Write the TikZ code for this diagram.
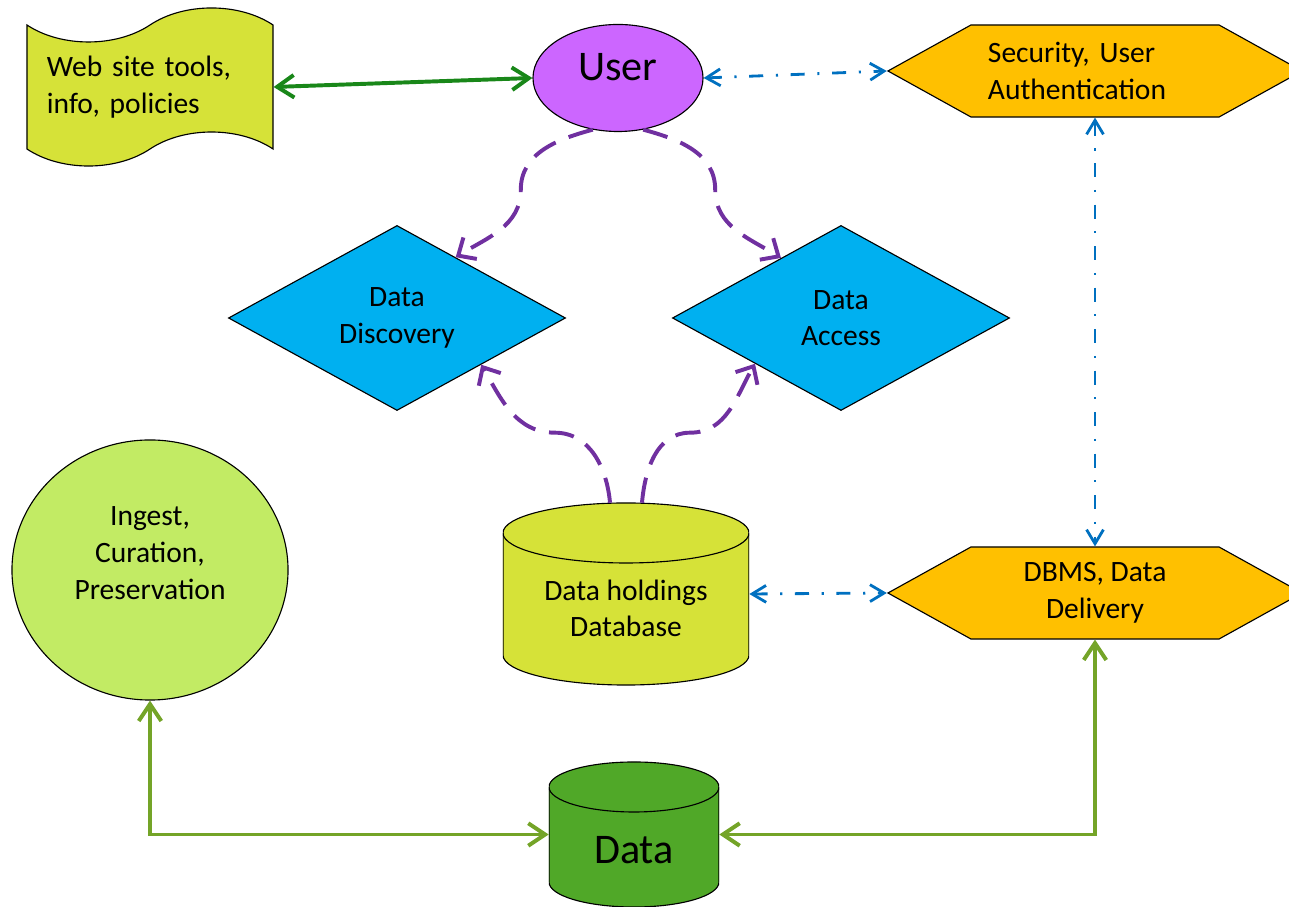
\documentclass[tikz,border=0pt]{standalone}
\usepackage{fontspec}
\setmainfont{Carlito}
\usepackage{tikz}
\usetikzlibrary{shapes.geometric, shapes.symbols, arrows.meta}

\definecolor{webyellow}{RGB}{214,226,56}
\definecolor{uservio}{RGB}{204,102,255}
\definecolor{secgold}{RGB}{255,192,0}
\definecolor{diamblue}{RGB}{0,176,240}
\definecolor{ingestgreen}{RGB}{194,235,100}
\definecolor{datagreen}{RGB}{80,168,40}
\definecolor{arrowgreen}{RGB}{25,135,25}
\definecolor{olivearrow}{RGB}{116,164,40}
\definecolor{flowpurple}{RGB}{112,48,160}
\definecolor{linkblue}{RGB}{0,112,192}

\begin{document}
\begin{tikzpicture}[
        x=0.025cm, y=0.025cm,
        font=\fontsize{21}{26}\selectfont,
        box/.style={draw=black, line width=0.8pt, align=center, inner sep=2pt},
        scroll/.style={box, tape, fill=webyellow, minimum width=6.15cm, minimum height=3.95cm, tape bend height=0.85cm, align=left, text width=5.15cm},
        hexa/.style={box, signal, signal to=west and east, signal pointer angle=58, fill=secgold, minimum width=10.35cm, minimum height=2.3cm},
        choice/.style={box, diamond, aspect=1.82, fill=diamblue, minimum width=8.425cm, minimum height=4.625cm, inner sep=0pt},
        store/.style n args={4}{minimum width=#1, minimum height=#2, inner sep=0pt, align=center,
            path picture={
                \draw[fill=#4, line width=0.8pt] (path picture bounding box.north west) ++(0,-#3)
                    -- ++(0,{-(#2-2*#3)}) arc[start angle=180, end angle=360, x radius={#1/2}, y radius=#3]
                    -- ++(0,{#2-2*#3}) arc[start angle=0, end angle=180, x radius={#1/2}, y radius=#3] -- cycle;
                \draw[line width=0.8pt] (path picture bounding box.north west) ++(0,-#3)
                    arc[start angle=180, end angle=360, x radius={#1/2}, y radius=#3];
            }},
        big/.style={font=\fontsize{30}{36}\selectfont},
        both/.style={line width=2.8pt, {Straight Barb[length=12pt,width=16pt]}-{Straight Barb[length=12pt,width=16pt]}},
        link/.style={linkblue, line width=2pt, dash pattern=on 10pt off 9pt on 1.5pt off 9pt, {Straight Barb[length=10pt,width=12pt]}-{Straight Barb[length=10pt,width=12pt]}},
        flow/.style={flowpurple, line width=2.8pt, dash pattern=on 18pt off 10pt, -{Straight Barb[length=10pt,width=18pt]}}
    ]
        \clip (0,0) rectangle (1289,907);

        % Top row
        \node[scroll] (web) at (150, 820) {Web site tools,\\info, policies};
        \node[box, ellipse, big, fill=uservio, minimum width=4.25cm, minimum height=2.675cm, text depth=0.55cm] (user) at (618, 829) {User};
        \node[hexa, align=left, text width=5.35cm] (sec) at (1095, 836) {Security, User\\Authentication};

        % Search and access
        \node[choice] (disc) at (397, 589) {Data\\Discovery};
        \node[choice] (acc) at (841, 589) {Data\\Access};

        % Holdings and delivery
        \node[box, ellipse, fill=ingestgreen, minimum width=6.9cm, minimum height=6.5cm, text depth=0.85cm] (ingest) at (150, 337) {Ingest,\\Curation,\\Preservation};
        \node[store={6.15cm}{4.55cm}{0.75cm}{webyellow}, text height=2.15cm] (dbase) at (626, 313) {Data holdings\\Database};
        \node[hexa] (dbms) at (1095, 314) {DBMS, Data\\Delivery};
        \node[store={4.25cm}{3.625cm}{0.625cm}{datagreen}, big, text height=1.45cm] (data) at (634, 72.5) {Data};

        % Links
        \draw[both, arrowgreen] (web.east) -- (user.west);
        \draw[link] (user.east) -- (sec.west);
        \draw[link] (sec.south) -- (dbms.north);
        \draw[link] (dbase.east) -- (dbms.west);
        \draw[both, olivearrow] (data.west) -| (ingest.south);
        \draw[both, olivearrow] (data.east) -| (dbms.south);

        % Search paths
        \draw[flow] (user.-116) to[out=195, in=90] ++(-72,-60) to[out=-90, in=32] (disc.46);
        \draw[flow] (user.-64) to[out=-15, in=90] ++(72,-60) to[out=-90, in=148] (acc.135);
        \draw[flow] ([xshift=-0.4cm]dbase.north) to[out=95, in=0] ++(-55,70) to[out=180, in=-60] (disc.-29);
        \draw[flow] ([xshift=0.4cm]dbase.north) to[out=85, in=180] ++(48,70) to[out=0, in=-120] (acc.208);
    \end{tikzpicture}
\end{document}
